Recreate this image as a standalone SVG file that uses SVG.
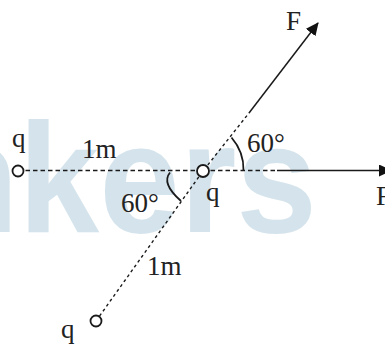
<svg xmlns="http://www.w3.org/2000/svg" width="385" height="347" viewBox="0 0 385 347">
  <style>
    .wm { font-family: "Liberation Sans", Arial, sans-serif; font-weight: bold; font-size: 156px; fill: #d5e4ec; }
    .lbl { font-family: "Liberation Serif", "Times New Roman", serif; font-size: 27px; fill: #222; }
    .charge { fill: #fff; stroke: #1a1a1a; stroke-width: 1.8; }
    .dash { fill: none; stroke: #1a1a1a; stroke-width: 1.4; stroke-dasharray: 4.5 3; }
    .dot { fill: none; stroke: #1a1a1a; stroke-width: 1.4; stroke-dasharray: 3 3; }
    .solid { fill: none; stroke: #1a1a1a; stroke-width: 1.5; }
    .arc { fill: none; stroke: #1a1a1a; stroke-width: 1.8; }
  </style>
  <defs>
    <marker id="arrow" viewBox="0 0 13 12" refX="12" refY="6" markerWidth="13" markerHeight="12" markerUnits="userSpaceOnUse" orient="auto">
      <path d="M0,0 L13,6 L0,12 z" fill="#111"/>
    </marker>
  </defs>
  <rect width="385" height="347" fill="#fff"/>
  <text class="wm" x="-70" y="232" textLength="387" lengthAdjust="spacingAndGlyphs">nkers</text>

  <g id="connectors">
    <line class="dash" x1="18" y1="170.5" x2="203" y2="170.5"/>
    <line class="dash" x1="203" y1="170.5" x2="278" y2="170.5"/>
    <line class="solid" x1="277" y1="170.5" x2="391" y2="170.5" marker-end="url(#arrow)"/>
    <path class="dot" d="M96,321 L203,171 L249,113"/>
    <line class="solid" x1="249" y1="113" x2="318" y2="23" marker-end="url(#arrow)"/>
    <path class="arc" d="M231.5,137.5 Q244,152 243.5,170.5"/>
    <path class="arc" d="M170,172.5 Q161,183.5 181,201"/>
  </g>

  <g id="charge-left">
    <circle class="charge" cx="18" cy="171" r="5.5"/>
    <text class="lbl" x="12" y="147">q</text>
  </g>
  <g id="charge-center">
    <circle class="charge" cx="203" cy="171" r="6"/>
    <text class="lbl" x="206" y="201">q</text>
  </g>
  <g id="charge-bottom">
    <circle class="charge" cx="96" cy="321" r="5.5"/>
    <text class="lbl" x="61" y="338">q</text>
  </g>
  <g id="labels">
    <text class="lbl" x="82" y="158">1m</text>
    <text class="lbl" x="147" y="275">1m</text>
    <text class="lbl" x="247" y="152">60°</text>
    <text class="lbl" x="121" y="212">60°</text>
    <text class="lbl" x="286" y="30">F</text>
    <text class="lbl" x="376" y="205">F</text>
  </g>
</svg>
